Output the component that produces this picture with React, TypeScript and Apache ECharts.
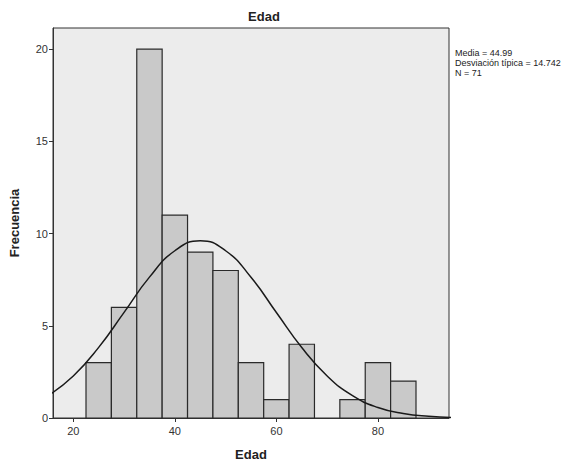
import React, { useEffect, useRef } from "react";
import * as echarts from "echarts";

const binStarts = [22.5, 27.5, 32.5, 37.5, 42.5, 47.5, 52.5, 57.5, 62.5, 67.5, 72.5, 77.5, 82.5];
const binEnds = [27.5, 32.5, 37.5, 42.5, 47.5, 52.5, 57.5, 62.5, 67.5, 72.5, 77.5, 82.5, 87.5];
const counts = [3, 6, 20, 11, 9, 8, 3, 1, 4, 0, 1, 3, 2];

const curveX = [15, 20, 25, 30, 35, 40, 45, 50, 55, 60, 65, 70, 75, 80, 85, 90, 95];
const curveY = [1.21, 2.28, 3.83, 5.73, 7.64, 9.07, 9.61, 9.07, 7.63, 5.72, 3.82, 2.28, 1.21, 0.57, 0.24, 0.09, 0.03];

const xTicks = [20, 40, 60, 80];
const yTicks = [0, 5, 10, 15, 20];
const statsLines = ["Media = 44.99", "Desviación típica = 14.742", "N = 71"];

export default function App() {
  const ref = useRef<HTMLDivElement>(null);
  useEffect(() => {
    document.body.style.margin = "0";
    const chart = echarts.init(ref.current!, null, { renderer: "svg" });
    const font = "'Liberation Sans', Arial, sans-serif";
    const barData = counts
      .map((c, i) => [binStarts[i], binEnds[i], c])
      .filter((d) => d[2] > 0);
    chart.setOption({
      animation: false,
      backgroundColor: "#ffffff",
      title: {
        text: "Edad",
        left: 259,
        textAlign: "center",
        top: 5,
        textStyle: { fontFamily: font, fontSize: 13, fontWeight: "bold", color: "#222" },
      },
      grid: {
        left: 50,
        right: 130,
        top: 28,
        bottom: 47,
        show: true,
        backgroundColor: "#ececec",
        borderColor: "#333",
        borderWidth: 1,
      },
      xAxis: {
        type: "value",
        min: 16,
        max: 94,
        name: "Edad",
        nameLocation: "middle",
        nameGap: 30,
        nameTextStyle: { fontFamily: font, fontSize: 13, fontWeight: "bold", color: "#222" },
        axisLine: { show: true, onZero: false, lineStyle: { color: "#333" } },
        axisTick: { show: true, customValues: xTicks, length: 4, lineStyle: { color: "#333" } },
        axisLabel: { customValues: xTicks, fontFamily: font, fontSize: 11, color: "#333", margin: 7 },
        splitLine: { show: false },
      },
      yAxis: {
        type: "value",
        min: 0,
        max: 21.15,
        name: "Frecuencia",
        nameLocation: "middle",
        nameGap: 32,
        nameTextStyle: { fontFamily: font, fontSize: 13, fontWeight: "bold", color: "#222" },
        axisLine: { show: true, lineStyle: { color: "#333" } },
        axisTick: { show: true, customValues: yTicks, length: 4, lineStyle: { color: "#333" } },
        axisLabel: { customValues: yTicks, fontFamily: font, fontSize: 11, color: "#333", margin: 5 },
        splitLine: { show: false },
      },
      graphic: [
        {
          type: "text",
          left: 455,
          top: 48,
          style: {
            text: statsLines.join("\n"),
            font: `9px ${font}`,
            lineHeight: 10,
            fill: "#222",
          },
        },
      ],
      series: [
        {
          type: "custom",
          data: barData,
          renderItem: (params: any, api: any) => {
            const p1 = api.coord([api.value(0), api.value(2)]);
            const p2 = api.coord([api.value(1), 0]);
            return {
              type: "rect",
              shape: { x: p1[0], y: p1[1], width: p2[0] - p1[0], height: p2[1] - p1[1] },
              style: { fill: "#c9c9c9", stroke: "#2a2a2a", lineWidth: 1.2 },
            };
          },
          z: 2,
        },
        {
          type: "line",
          data: curveX.map((x, i) => [x, curveY[i]]),
          smooth: true,
          showSymbol: false,
          symbol: "none",
          clip: true,
          lineStyle: { color: "#1a1a1a", width: 1.5 },
          z: 3,
        },
      ],
    });
    return () => chart.dispose();
  }, []);
  return <div ref={ref} style={{ width: 579, height: 466 }} />;
}
